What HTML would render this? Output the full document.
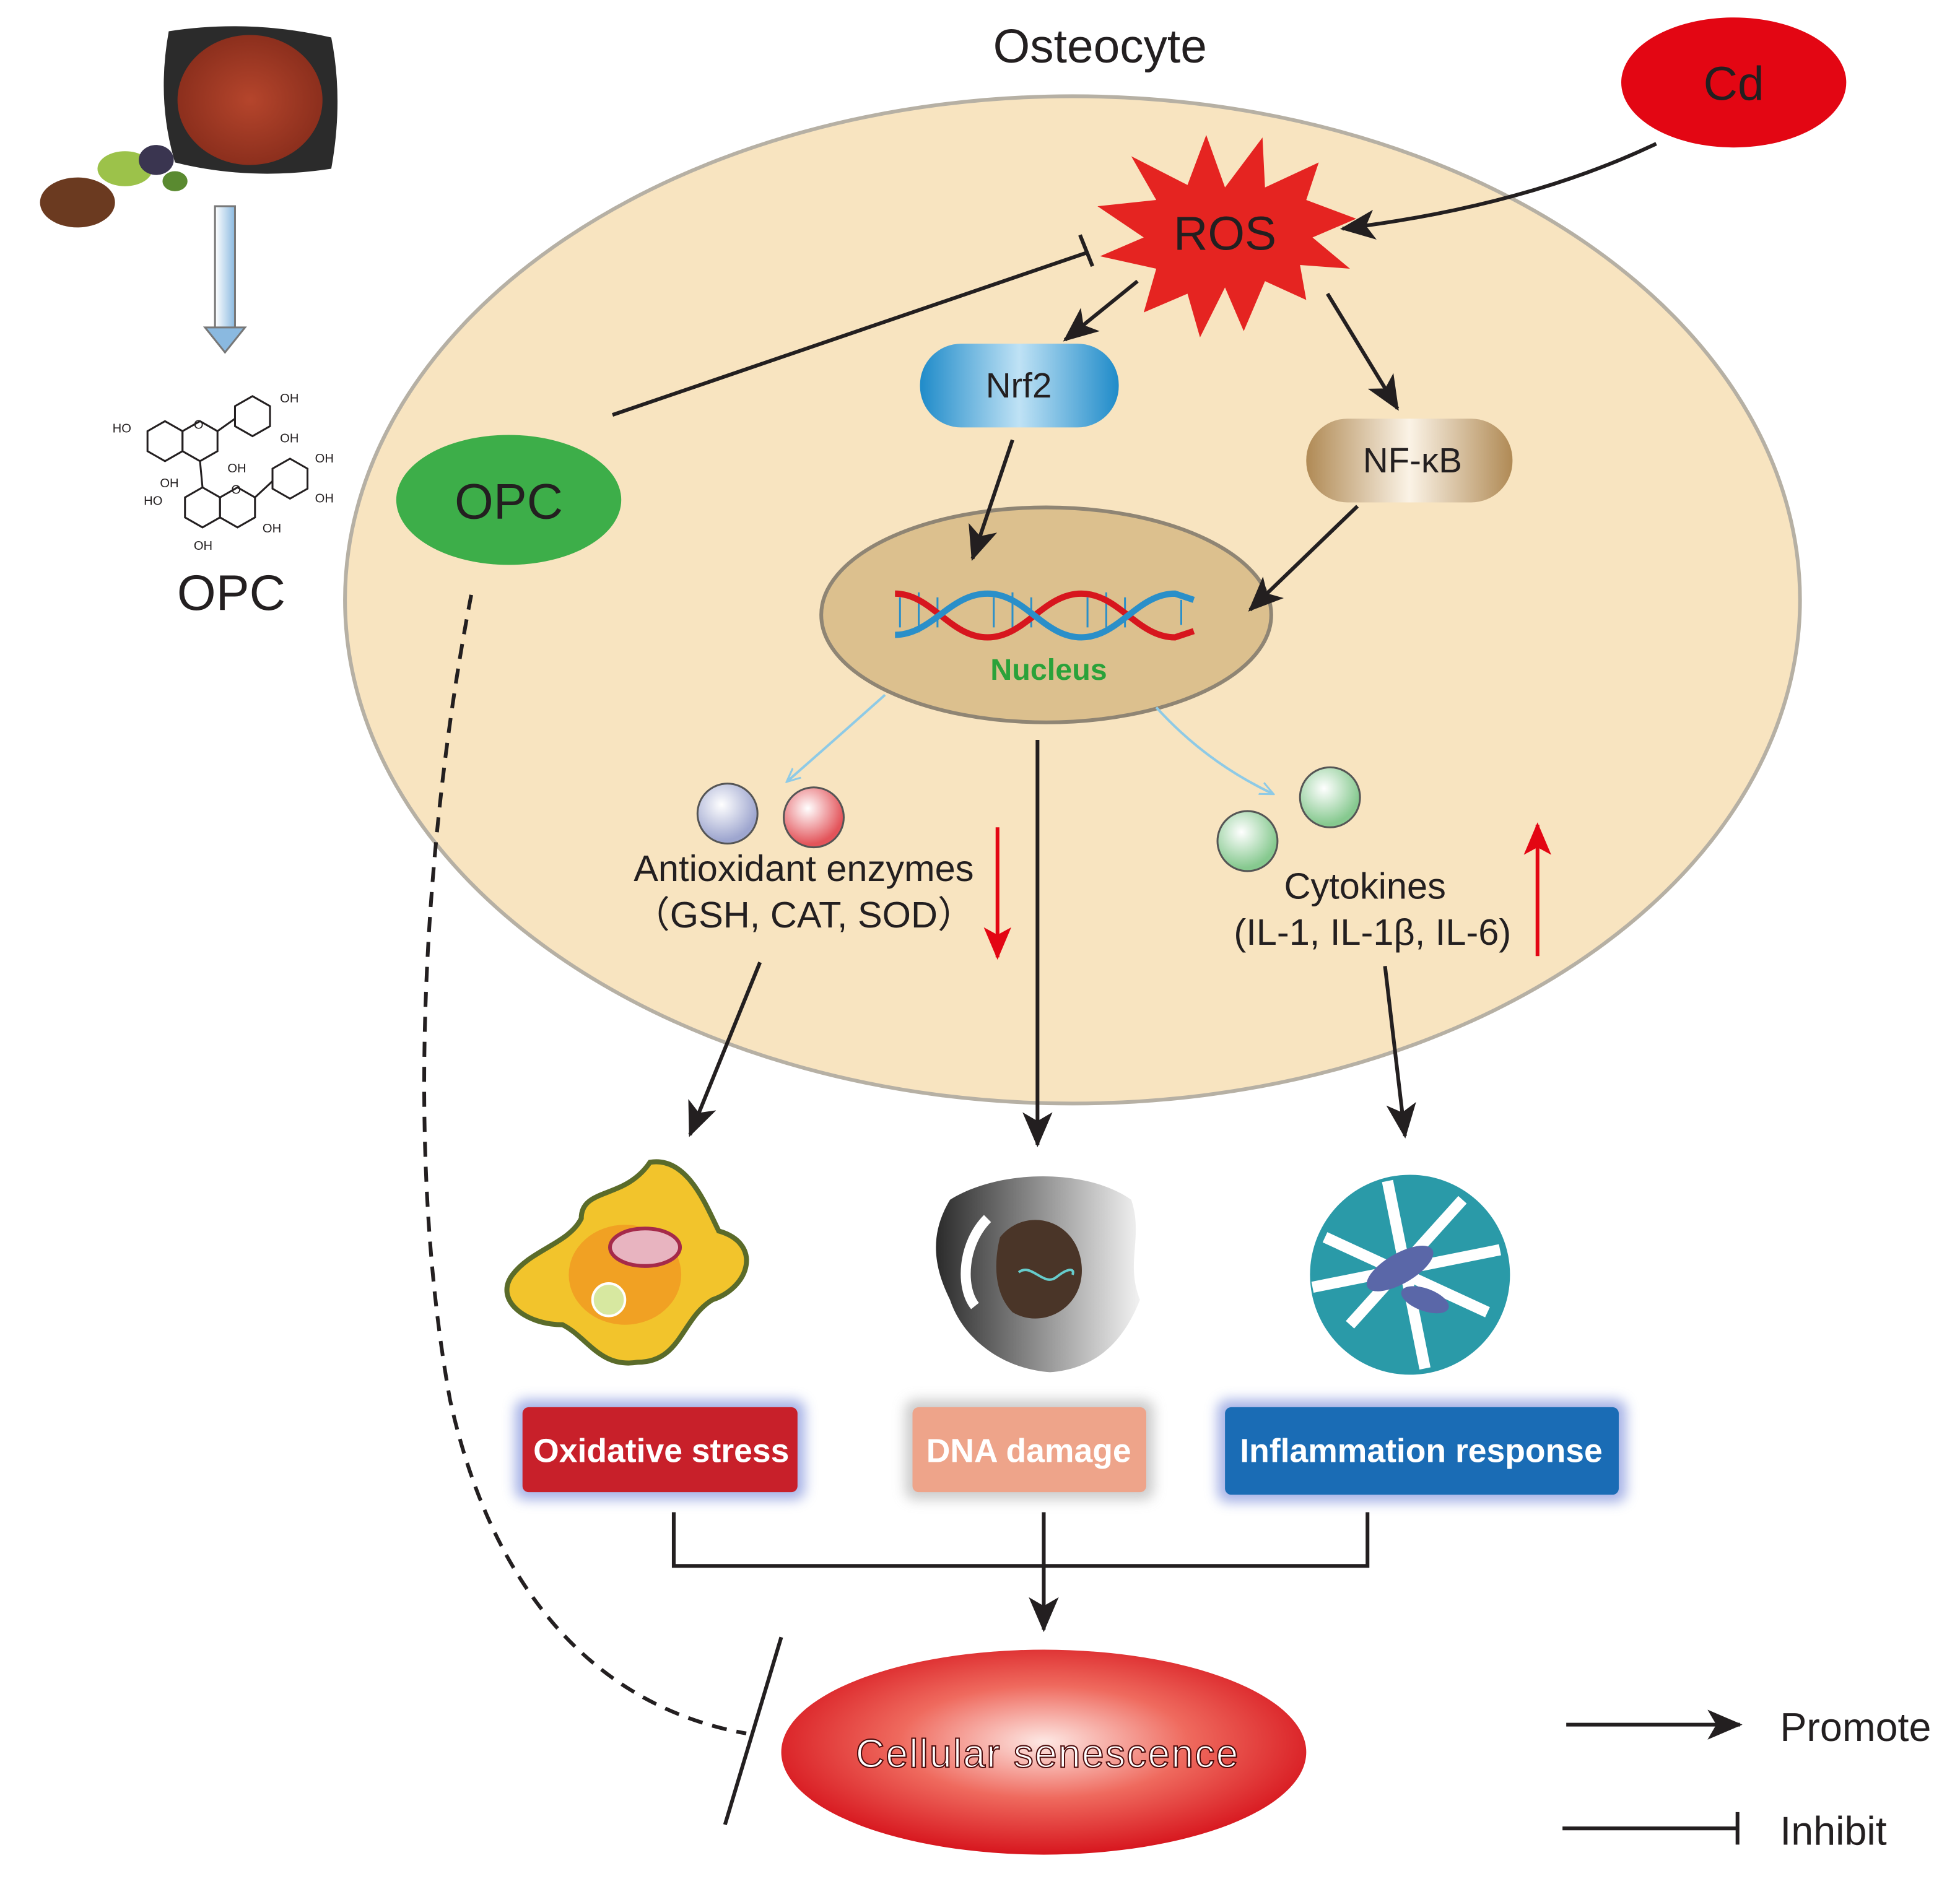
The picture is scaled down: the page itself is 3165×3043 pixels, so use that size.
<!DOCTYPE html>
<html><head><meta charset="utf-8"><style>
html,body{margin:0;padding:0;background:#fff;}
svg{display:block;}
text{font-family:"Liberation Sans",Arial,sans-serif;}
</style></head><body>
<svg width="3165" height="3043" viewBox="0 0 1568 1507.5" preserveAspectRatio="none" xmlns="http://www.w3.org/2000/svg">
<defs>
<marker id="ahb" markerWidth="30" markerHeight="30" refX="26" refY="15" orient="auto" markerUnits="userSpaceOnUse" viewBox="0 0 30 30"><path d="M0,3 L28,15 L0,27 L7,15z" fill="#231f20"/></marker>
<marker id="ahr" markerWidth="26" markerHeight="30" refX="24" refY="13" orient="auto" markerUnits="userSpaceOnUse" viewBox="0 0 26 26"><path d="M0,2 L26,13 L0,24 L6,13z" fill="#e30613"/></marker>
<marker id="ahl" markerWidth="12" markerHeight="12" refX="10" refY="6" orient="auto" markerUnits="userSpaceOnUse"><path d="M0,1 L11,6 L0,11" fill="none" stroke="#8ecae6" stroke-width="1.5"/></marker>
<linearGradient id="nrf" x1="0" y1="0" x2="1" y2="0"><stop offset="0" stop-color="#1f8bc9"/><stop offset="0.5" stop-color="#bfe2f5"/><stop offset="1" stop-color="#1f8bc9"/></linearGradient>
<linearGradient id="nfk" x1="0" y1="0" x2="1" y2="0"><stop offset="0" stop-color="#b08a55"/><stop offset="0.5" stop-color="#fbf3e6"/><stop offset="1" stop-color="#b08a55"/></linearGradient>
<radialGradient id="sen" cx="0.5" cy="0.45" r="0.55"><stop offset="0" stop-color="#fde8e4"/><stop offset="0.5" stop-color="#ef6a5e"/><stop offset="1" stop-color="#d7161e"/></radialGradient>
<radialGradient id="sb" cx="0.4" cy="0.35" r="0.6"><stop offset="0" stop-color="#fff"/><stop offset="1" stop-color="#9ea6cf"/></radialGradient>
<radialGradient id="sr" cx="0.4" cy="0.35" r="0.6"><stop offset="0" stop-color="#fff"/><stop offset="1" stop-color="#e3545a"/></radialGradient>
<radialGradient id="sg" cx="0.4" cy="0.35" r="0.6"><stop offset="0" stop-color="#fff"/><stop offset="1" stop-color="#86c98f"/></radialGradient>
<radialGradient id="bowl" cx="0.5" cy="0.5" r="0.5"><stop offset="0" stop-color="#b5452c"/><stop offset="1" stop-color="#8c2f1d"/></radialGradient>
<linearGradient id="dna" x1="0" y1="0" x2="1" y2="0"><stop offset="0" stop-color="#2b2b2b"/><stop offset="1" stop-color="#f2f2f2"/></linearGradient>
<linearGradient id="harr" x1="0" y1="0" x2="1" y2="0"><stop offset="0" stop-color="#fff"/><stop offset="1" stop-color="#8ab9e0"/></linearGradient>
<filter id="glow" x="-20%" y="-40%" width="140%" height="180%"><feGaussianBlur stdDeviation="5"/></filter>
</defs>

<ellipse cx="858" cy="480" rx="582" ry="403" fill="#f8e4c0" stroke="#b6b0a4" stroke-width="3"/>
<text x="880" y="50" font-size="38" text-anchor="middle" fill="#231f20">Osteocyte</text>

<ellipse cx="1387" cy="66" rx="90" ry="52" fill="#e30613"/>
<text x="1387" y="80" font-size="38" text-anchor="middle" fill="#231f20">Cd</text>
<path d="M1325,115 Q1220,165 1074,183" fill="none" stroke="#231f20" stroke-width="3" marker-end="url(#ahb)"/>

<polygon points="980,150 1010,110 1012,150 1055,130 1045,160 1085,175 1050,190 1080,215 1040,212 1045,240 1012,225 995,265 980,230 960,270 950,235 915,250 925,215 880,205 915,190 878,165 925,160 905,125 950,148 965,108" fill="#e52421"/>
<text x="980" y="200" font-size="38" text-anchor="middle" fill="#231f20">ROS</text>

<line x1="490" y1="332" x2="870" y2="202" stroke="#231f20" stroke-width="3"/>
<line x1="864" y1="188" x2="874" y2="213" stroke="#231f20" stroke-width="3"/>

<ellipse cx="407" cy="400" rx="90" ry="52" fill="#3dae49"/>
<text x="407" y="415" font-size="40" text-anchor="middle" fill="#231f20">OPC</text>

<rect x="736" y="275" width="159" height="67" rx="33" fill="url(#nrf)"/>
<text x="815" y="318" font-size="28" text-anchor="middle" fill="#231f20">Nrf2</text>
<rect x="1045" y="335" width="165" height="67" rx="33" fill="url(#nfk)"/>
<text x="1130" y="378" font-size="28" text-anchor="middle" fill="#231f20">NF-κB</text>

<line x1="910" y1="225" x2="852" y2="272" stroke="#231f20" stroke-width="3" marker-end="url(#ahb)"/>
<line x1="1062" y1="235" x2="1118" y2="327" stroke="#231f20" stroke-width="3" marker-end="url(#ahb)"/>

<ellipse cx="837" cy="492" rx="180" ry="86" fill="#dcc08e" stroke="#8f8574" stroke-width="3"/>
<g stroke-width="1.5" stroke="#2a8fc9">
<path d="M720,478 L720,502 M735,474 L735,506 M750,478 L750,502 M795,478 L795,502 M810,474 L810,506 M825,478 L825,502 M870,478 L870,502 M885,474 L885,506 M900,478 L900,502 M945,480 L945,500" />
</g>
<path d="M716,475 C745,475 760,510 790,510 S835,475 865,475 S910,510 940,510 L955,505" fill="none" stroke="#d7161e" stroke-width="5"/>
<path d="M716,508 C745,508 760,475 790,475 S835,510 865,510 S910,475 940,475 L955,480" fill="none" stroke="#2a8fc9" stroke-width="5"/>
<text x="839" y="544" font-size="24" font-weight="bold" text-anchor="middle" fill="#2aa23a">Nucleus</text>

<line x1="810" y1="352" x2="778" y2="447" stroke="#231f20" stroke-width="3" marker-end="url(#ahb)"/>
<line x1="1086" y1="405" x2="1000" y2="488" stroke="#231f20" stroke-width="3" marker-end="url(#ahb)"/>

<path d="M708,556 Q670,590 630,625" fill="none" stroke="#8ecae6" stroke-width="2" marker-end="url(#ahl)"/>
<path d="M925,566 Q965,610 1018,635" fill="none" stroke="#8ecae6" stroke-width="2" marker-end="url(#ahl)"/>

<circle cx="582" cy="651" r="24" fill="url(#sb)" stroke="#555" stroke-width="1.5"/>
<circle cx="651" cy="654" r="24" fill="url(#sr)" stroke="#555" stroke-width="1.5"/>
<circle cx="998" cy="673" r="24" fill="url(#sg)" stroke="#555" stroke-width="1.5"/>
<circle cx="1064" cy="638" r="24" fill="url(#sg)" stroke="#555" stroke-width="1.5"/>

<text x="643" y="705" font-size="29.5" text-anchor="middle" fill="#231f20">Antioxidant enzymes</text>
<text x="643" y="742" font-size="29.5" text-anchor="middle" fill="#231f20">（GSH, CAT, SOD）</text>
<text x="1092" y="719" font-size="29.5" text-anchor="middle" fill="#231f20">Cytokines</text>
<text x="1098" y="756" font-size="29.5" text-anchor="middle" fill="#231f20">(IL-1, IL-1β, IL-6)</text>

<line x1="798" y1="662" x2="798" y2="766" stroke="#e30613" stroke-width="3" marker-end="url(#ahr)"/>
<line x1="1230" y1="765" x2="1230" y2="660" stroke="#e30613" stroke-width="3" marker-end="url(#ahr)"/>

<line x1="608" y1="770" x2="552" y2="908" stroke="#231f20" stroke-width="3" marker-end="url(#ahb)"/>
<line x1="830" y1="592" x2="830" y2="916" stroke="#231f20" stroke-width="3" marker-end="url(#ahb)"/>
<line x1="1108" y1="773" x2="1124" y2="909" stroke="#231f20" stroke-width="3" marker-end="url(#ahb)"/>

<path d="M520,930 C550,925 565,965 575,985 C610,995 600,1030 570,1040 C545,1055 545,1090 510,1090 C480,1095 470,1070 450,1060 C420,1060 395,1040 410,1020 C425,1000 455,995 465,975 C465,950 500,960 520,930z" fill="#f2c42c" stroke="#5a6b2a" stroke-width="4"/>
<ellipse cx="500" cy="1020" rx="45" ry="40" fill="#f08a1e" opacity="0.6"/>
<ellipse cx="516" cy="998" rx="28" ry="15" fill="#e8b4c0" stroke="#a52a4a" stroke-width="3"/>
<circle cx="487" cy="1040" r="13" fill="#d7e8a0" stroke="#fff" stroke-width="2"/>

<path d="M760,960 C800,935 870,935 905,960 C915,990 900,1010 912,1040 C900,1070 880,1095 840,1098 C800,1095 770,1070 760,1040 C745,1010 745,985 760,960z" fill="url(#dna)"/>
<path d="M790,975 C770,995 768,1030 780,1045" fill="none" stroke="#fff" stroke-width="8"/>
<path d="M800,990 C820,965 860,975 865,1010 C870,1045 835,1065 810,1050 C795,1035 795,1010 800,990z" fill="#4a3528"/>
<path d="M815,1018 C825,1010 835,1030 845,1022 S860,1015 858,1020" fill="none" stroke="#6cc" stroke-width="2"/>

<circle cx="1128" cy="1020" r="80" fill="#2a9aa8"/>
<path d="M1060,990 L1190,1050 M1080,1060 L1170,960 M1050,1030 L1200,1000 M1110,945 L1140,1095" stroke="#fff" stroke-width="9"/>
<ellipse cx="1120" cy="1015" rx="30" ry="12" fill="#5a67a8" transform="rotate(-30 1120 1015)"/>
<ellipse cx="1140" cy="1040" rx="20" ry="9" fill="#5a67a8" transform="rotate(20 1140 1040)"/>

<rect x="412" y="1120" width="232" height="80" rx="8" fill="#6b7fd6" filter="url(#glow)" opacity="0.6"/>
<rect x="418" y="1126" width="220" height="68" rx="5" fill="#c8202a"/>
<text x="529" y="1170" font-size="26.5" font-weight="bold" text-anchor="middle" fill="#fff">Oxidative stress</text>
<rect x="724" y="1120" width="199" height="80" rx="8" fill="#aaa" filter="url(#glow)" opacity="0.6"/>
<rect x="730" y="1126" width="187" height="68" rx="5" fill="#eea48a"/>
<text x="823" y="1170" font-size="26.5" font-weight="bold" text-anchor="middle" fill="#fff">DNA damage</text>
<rect x="974" y="1120" width="327" height="82" rx="8" fill="#6b7fd6" filter="url(#glow)" opacity="0.6"/>
<rect x="980" y="1126" width="315" height="70" rx="5" fill="#1a6cb5"/>
<text x="1137" y="1170" font-size="26.5" font-weight="bold" text-anchor="middle" fill="#fff">Inflammation response</text>

<path d="M539,1210 L539,1253 L1094,1253 L1094,1210 M835,1210 L835,1253" fill="none" stroke="#231f20" stroke-width="3"/>
<line x1="835" y1="1253" x2="835" y2="1304" stroke="#231f20" stroke-width="3" marker-end="url(#ahb)"/>

<ellipse cx="835" cy="1402" rx="210" ry="82" fill="url(#sen)"/>
<text x="838" y="1414" font-size="32" text-anchor="middle" fill="#fff" stroke="#4a0a0a" stroke-width="1" letter-spacing="1">Cellular senescence</text>

<path d="M377,476 C345,640 320,900 360,1120 C400,1300 500,1370 597,1387" fill="none" stroke="#231f20" stroke-width="3" stroke-dasharray="12,8"/>
<line x1="625" y1="1310" x2="580" y2="1460" stroke="#231f20" stroke-width="3"/>

<line x1="1253" y1="1380" x2="1392" y2="1380" stroke="#231f20" stroke-width="3" marker-end="url(#ahb)"/>
<text x="1424" y="1393" font-size="32" fill="#231f20">Promote</text>
<line x1="1250" y1="1463" x2="1390" y2="1463" stroke="#231f20" stroke-width="3"/>
<line x1="1390" y1="1450" x2="1390" y2="1476" stroke="#231f20" stroke-width="3"/>
<text x="1424" y="1476" font-size="32" fill="#231f20">Inhibit</text>

<path d="M135,25 Q200,15 265,30 Q275,80 265,135 Q200,145 140,130 Q125,80 135,25z" fill="#2b2b2b"/>
<ellipse cx="200" cy="80" rx="58" ry="52" fill="url(#bowl)"/>
<ellipse cx="62" cy="162" rx="30" ry="20" fill="#6b3a20"/>
<ellipse cx="100" cy="135" rx="22" ry="14" fill="#9cc24a"/>
<ellipse cx="125" cy="128" rx="14" ry="12" fill="#3a3550"/>
<ellipse cx="140" cy="145" rx="10" ry="8" fill="#5a8a30"/>
<rect x="172" y="165" width="16" height="98" fill="url(#harr)" stroke="#777" stroke-width="1.5"/>
<polygon points="164,262 196,262 180,282" fill="#8ab9e0" stroke="#777" stroke-width="1.5"/>

<g fill="none" stroke="#231f20" stroke-width="1.5">
<polygon points="118,345 132,337 146,345 146,361 132,369 118,361"/>
<polygon points="146,345 160,337 174,345 174,361 160,369 146,361"/>
<polygon points="188,325 202,317 216,325 216,341 202,349 188,341"/>
<line x1="174" y1="345" x2="188" y2="335"/>
<polygon points="148,398 162,390 176,398 176,414 162,422 148,414"/>
<polygon points="176,398 190,390 204,398 204,414 190,422 176,414"/>
<polygon points="218,375 232,367 246,375 246,391 232,399 218,391"/>
<line x1="204" y1="398" x2="218" y2="385"/>
<line x1="160" y1="369" x2="162" y2="390"/>
</g>
<g font-size="10" fill="#231f20">
<text x="90" y="346">HO</text><text x="224" y="322">OH</text><text x="224" y="354">OH</text>
<text x="128" y="390">OH</text><text x="182" y="378">OH</text><text x="115" y="404">HO</text>
<text x="252" y="370">OH</text><text x="252" y="402">OH</text><text x="210" y="426">OH</text><text x="155" y="440">OH</text>
<text x="155" y="343">O</text><text x="185" y="395">O</text>
</g>
<text x="185" y="488" font-size="40" text-anchor="middle" fill="#231f20">OPC</text>
</svg>
</body></html>
